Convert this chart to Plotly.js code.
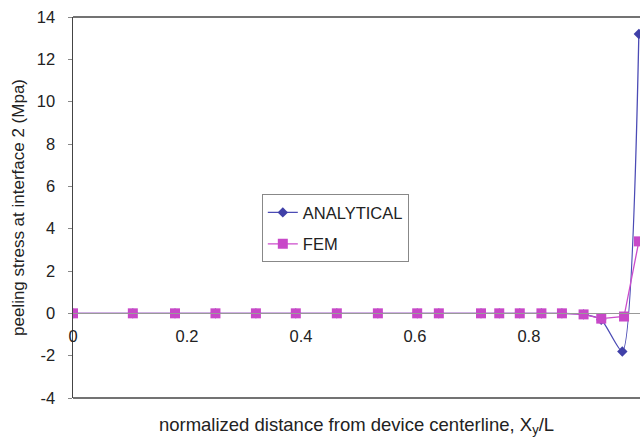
<!DOCTYPE html>
<html><head><meta charset="utf-8">
<script src="https://cdn.plot.ly/plotly-3.0.1.min.js"></script>
<style>html,body{margin:0;padding:0;background:#fff}</style>
</head><body>
<div id="chart" style="width:640px;height:438px"></div>
<script>
const femX = [0, 0.105, 0.179, 0.25, 0.321, 0.391, 0.463, 0.535, 0.604, 0.642, 0.716, 0.748, 0.784, 0.822, 0.858, 0.896, 0.927, 0.967, 0.993];
const femY = [0, 0, 0, 0, 0, 0, 0, 0, 0, 0, 0, 0, 0, 0, 0, -0.05, -0.25, -0.15, 3.4];
const anaX = [0, 0.105, 0.179, 0.25, 0.321, 0.391, 0.463, 0.535, 0.604, 0.642, 0.716, 0.748, 0.784, 0.822, 0.858, 0.896, 0.927, 0.964, 0.993];
const anaY = [0, 0, 0, 0, 0, 0, 0, 0, 0, 0, 0, 0, 0, 0, 0, -0.05, -0.3, -1.8, 13.2];
const xTicks = [0, 0.2, 0.4, 0.6, 0.8];
const xTickText = ['0', '0.2', '0.4', '0.6', '0.8'];
const yTicks = [-4, -2, 0, 2, 4, 6, 8, 10, 12, 14];
const yTickText = ['-4', '-2', '0', '2', '4', '6', '8', '10', '12', '14'];

const traces = [
  {x: anaX, y: anaY, name: 'ANALYTICAL', legendgroup: 'a', mode: 'lines+markers', type: 'scatter',
   line: {color: '#4B4BB5', width: 1.3, shape: 'spline', smoothing: 0.6},
   marker: {symbol: 'diamond', size: 8, color: '#4040A8'}},
  {x: femX, y: femY, name: 'FEM', legendgroup: 'b', mode: 'lines+markers', type: 'scatter',
   line: {color: '#CC4CCC', width: 1.3},
   marker: {symbol: 'square', size: 10, color: '#C848C8'}}
];
const layout = {
  width: 640, height: 438,
  margin: {l: 73, r: 0, t: 17, b: 40},
  paper_bgcolor: '#fff', plot_bgcolor: '#fff',
  font: {family: 'Liberation Sans, Arial, sans-serif', size: 16, color: '#222'},
  showlegend: true,
  legend: {x: 0.333, y: 0.535, xanchor: 'left', yanchor: 'top',
    bordercolor: '#888', borderwidth: 1, bgcolor: '#fff', traceorder: 'grouped',
    font: {size: 16.5, color: '#222'}, tracegroupgap: 7},
  xaxis: {range: [0, 0.995], anchor: 'free', position: 4/18,
    tickvals: xTicks, ticktext: xTickText, showgrid: false, zeroline: false,
    showline: true, linecolor: '#999', linewidth: 1, ticks: '',
    ticklabelstandoff: 8, tickfont: {size: 16.5},
    title: {text: 'normalized distance from device centerline, X<sub>y</sub>/L', standoff: 73, font: {size: 18.5}}},
  yaxis: {range: [-4, 14], tickvals: yTicks, ticktext: yTickText, showgrid: false, zeroline: false,
    showline: true, linecolor: '#444', linewidth: 1.5, ticks: 'outside', ticklen: 4, tickcolor: '#888',
    ticklabelstandoff: 9, tickfont: {size: 16.5},
    title: {text: 'peeling stress at interface 2 (Mpa)', standoff: 8, font: {size: 17}}},
  shapes: [
    {type: 'line', xref: 'paper', yref: 'paper', x0: 0, x1: 1, y0: 1, y1: 1, line: {color: '#444', width: 1.5}},
    {type: 'line', xref: 'paper', yref: 'paper', x0: 0, x1: 1, y0: 0, y1: 0, line: {color: '#444', width: 1.5}}
  ]
};
Plotly.newPlot('chart', traces, layout, {displayModeBar: false, staticPlot: true});
</script>
</body></html>
